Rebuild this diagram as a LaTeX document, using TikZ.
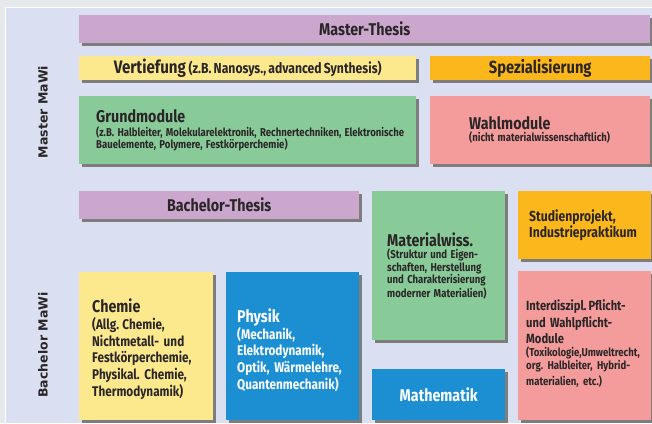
\documentclass[tikz,border=0pt]{standalone}
\usepackage{fontspec}
\setmainfont{Fira Sans}[FakeStretch=0.84,WordSpace=0.75]
\newfontfamily\sidefont{DejaVu Sans}
\usetikzlibrary{positioning,shadows}

\definecolor{outerbg}{HTML}{E6E9EC}
\definecolor{panelbg}{HTML}{DAE0F1}
\definecolor{thesis}{HTML}{CBA6CD}
\definecolor{vtyellow}{HTML}{FCE98E}
\definecolor{spzorange}{HTML}{FBB71C}
\definecolor{grgreen}{HTML}{89CB98}
\definecolor{wpink}{HTML}{F49B9B}
\definecolor{phblue}{HTML}{1B8FD2}
\definecolor{txtdark}{HTML}{2A2627}
\definecolor{shade}{HTML}{7D7D7D}

\newcommand\hdfont{\fontsize{17}{19}\selectfont}
\newcommand\mdfont{\fontsize{14}{16.7}\selectfont}
\newcommand\smfont{\fontsize{11.4}{12.6}\selectfont}

\begin{document}
\begin{tikzpicture}[x=1pt,y=-1pt,
  box/.style={rectangle,fill=#1,anchor=north west,inner sep=0pt,text=txtdark,font=\frenchspacing\bfseries\hdfont,
    drop shadow={shadow xshift=2.5pt,shadow yshift=-2.5pt,fill=shade,opacity=1}},
  txt/.style={inner sep=0pt,anchor=west,align=left,text width=#1,text=txtdark,font=\frenchspacing\bfseries},
  side/.style={rotate=90,text=txtdark,font=\sidefont\bfseries\fontsize{12.5}{15}\selectfont}]
\clip (0,0) rectangle (652,423);
% ---- background ----
\fill[outerbg] (0,0) rectangle (652,423);
\draw[white,line width=1pt] (5,423) -- (5,7.5) -- (652,7.5);
\fill[panelbg] (5.5,8) rectangle (652,423);
% ---- Master ----
\node[side] (master) at (43,112) {Master MaWi};
\node[box=thesis,minimum width=571pt,minimum height=28pt] (mthesis) at (79,15) {Master-Thesis};
\node[box=vtyellow,minimum width=337pt,minimum height=24pt] (vertief) at (79,56)
  {\fontsize{18}{20}\selectfont Vertiefung {\fontsize{14.5}{16}\selectfont (z.B.\ Nanosys., advanced Synthesis)}};
\node[box=spzorange,minimum width=220pt,minimum height=24pt] (spez) at (430,56) {\fontsize{17.5}{19}\selectfont Spezialisierung};
\node[box=grgreen,minimum width=337pt,minimum height=68pt] (grund) at (79,96) {};
\node[txt=318pt,right=17pt of grund.west] (grund-t)
  {\hdfont Grundmodule\par\vspace{1pt}\smfont (z.B.\ Halbleiter, Molekularelektronik, Rechnertechniken, Elektronische\\Bauelemente, Polymere, Festkörperchemie)};
\node[box=wpink,minimum width=220pt,minimum height=68pt] (wahl) at (430,96) {};
\node[txt=175pt,right=39pt of wahl.west] (wahl-t)
  {\hdfont Wahlmodule\par\smfont (nicht materialwissenschaftlich)};
% ---- Bachelor ----
\node[side] (bachelor) at (43,345) {Bachelor MaWi};
\node[box=thesis,minimum width=280pt,minimum height=28pt] (bthesis) at (79,191) {Bachelor-Thesis};
\node[box=grgreen,minimum width=133pt,minimum height=149pt] (matwiss) at (372,191) {};
\node[txt=115pt,right=15pt of matwiss.west] (matwiss-t)
  {\hdfont Materialwiss.\par\smfont (Struktur und Eigen-\\schaften, Herstellung\\und Charakterisierung\\moderner Materialien)};
\node[box=spzorange,minimum width=133pt,minimum height=68pt] (projekt) at (518,191) {};
\node[txt=120pt,right=11pt of projekt.west,font=\bfseries\fontsize{14.5}{15.5}\selectfont] (projekt-t)
  {Studienprojekt,\\Industriepraktikum};
\node[box=vtyellow,minimum width=134pt,minimum height=148pt] (chemie) at (79,272) {};
\node[txt=118pt,right=13pt of chemie.west,yshift=-3pt,font=\frenchspacing\bfseries\mdfont] (chemie-t)
  {{\hdfont Chemie}\\(Allg.\kern-1.5pt\ Chemie,\\Nichtmetall- und\\Festkörperchemie,\\Physikal.\ Chemie,\\Thermodynamik)};
\node[box=phblue,minimum width=133pt,minimum height=148pt] (physik) at (226,272) {};
\node[txt=120pt,right=11pt of physik.west,yshift=-4pt,text=white,font=\frenchspacing\bfseries\mdfont] (physik-t)
  {{\hdfont Physik}\\(Mechanik,\\Elektrodynamik,\\Optik, Wärmelehre,\\Quantenmechanik)};
\node[box=phblue,text=white,minimum width=133pt,minimum height=51pt] (mathe) at (372,369) {Mathematik};
\node[box=wpink,minimum width=133pt,minimum height=149pt] (inter) at (518,271) {};
\node[txt=124pt,right=8pt of inter.west,yshift=2pt,font=\frenchspacing\bfseries\fontsize{13.3}{16.7}\selectfont] (inter-t)
  {Interdiszipl.\kern-2.5pt\ Pflicht-\\und Wahlpflicht-\\Module\par\smfont (Toxikologie,Umweltrecht,\\org.\ Halbleiter, Hybrid-\\materialien, etc.)};
\end{tikzpicture}
\end{document}
